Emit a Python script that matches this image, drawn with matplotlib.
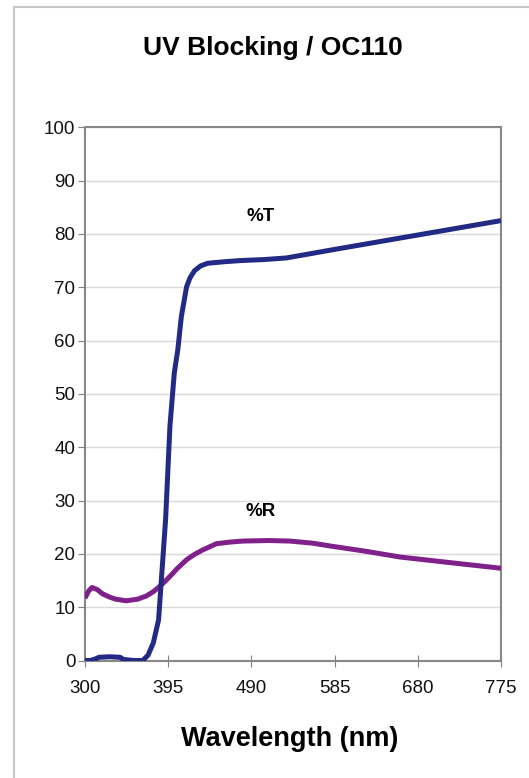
"""UV blocking curve for OC110: transmission and reflection vs wavelength."""

import matplotlib
matplotlib.use("Agg")
import matplotlib.pyplot as plt
from matplotlib.patches import Rectangle

plt.rcParams["font.family"] = ["Liberation Sans", "DejaVu Sans"]

# %T curve
WL_T = [300, 306, 312, 316, 328, 340, 344, 356, 366, 372, 378, 384, 388, 392,
        397, 402, 406, 410, 416, 420, 425, 432, 440, 460, 477, 505, 530, 585, 680, 775]
T_VALUES = [0.0, 0.0, 0.3, 0.6, 0.7, 0.6, 0.2, 0.0, 0.0, 1.0, 3.3, 7.6, 17.0, 26.4,
            44.0, 54.0, 58.3, 64.5, 70.1, 71.8, 73.1, 74.0, 74.5, 74.8, 75.0, 75.2, 75.5,
            77.1, 79.8, 82.5]

# %R curve
WL_R = [300, 304, 308, 314, 320, 328, 335, 347, 360, 370, 378, 386, 393, 400,
        405, 416, 425, 434, 450, 465, 480, 510, 534, 560, 583, 620, 660, 720, 775]
R_VALUES = [11.7, 13.0, 13.7, 13.3, 12.5, 11.9, 11.5, 11.2, 11.5, 12.1, 12.9, 14.0, 15.1, 16.3,
            17.2, 18.9, 19.9, 20.7, 21.9, 22.2, 22.4, 22.5, 22.4, 22.0, 21.4, 20.5, 19.4, 18.3, 17.3]

X_TICKS = [300, 395, 490, 585, 680, 775]
Y_TICKS = list(range(0, 101, 10))

fig = plt.figure(figsize=(5.29, 7.78), dpi=100)
fig.patches.append(Rectangle((14 / 529, -0.05), 1.2, 1 - 7 / 778 + 0.05,
                             transform=fig.transFigure, fill=False,
                             edgecolor="#c8c8c8", linewidth=1.5))

ax = fig.add_axes([85 / 529, 1 - 660.5 / 778, 416 / 529, 533.2 / 778])
ax.plot(WL_R, R_VALUES, color="#80208a", linewidth=3.6, solid_capstyle="butt",
        solid_joinstyle="round", zorder=3)
ax.plot(WL_T, T_VALUES, color="#232a86", linewidth=3.6, solid_capstyle="butt",
        solid_joinstyle="round", zorder=4)

ax.set_xlim(300, 775)
ax.set_ylim(0, 100)
ax.set_xticks(X_TICKS)
ax.set_yticks(Y_TICKS)
ax.tick_params(axis="both", labelsize=13.5, colors="#808080", labelcolor="#111111")
ax.tick_params(axis="x", direction="inout", length=8, pad=10)
ax.tick_params(axis="y", direction="out", length=5, pad=2)
ax.grid(axis="y", color="#d9d9d9", linewidth=1)
ax.set_axisbelow(True)
for side in ax.spines.values():
    side.set_color("#888888")
    side.set_linewidth(1.5)

ax.text(500, 83.2, "%T", fontsize=13.5, fontweight="bold", ha="center", va="center")
ax.text(500, 27.9, "%R", fontsize=13.5, fontweight="bold", ha="center", va="center")

fig.text(273 / 529, 1 - 48 / 778, "UV Blocking / OC110", fontsize=19,
         fontweight="bold", ha="center", va="center")
fig.text(290 / 529, 1 - 739 / 778, "Wavelength (nm)", fontsize=19.5,
         fontweight="bold", ha="center", va="center")

fig.savefig("out.png", dpi=100)
